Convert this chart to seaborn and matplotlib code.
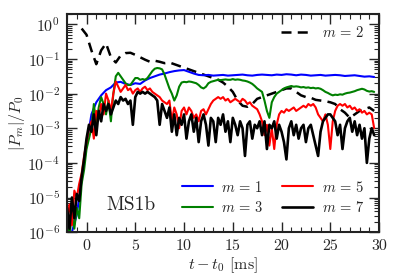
import numpy as np
import pandas as pd
import seaborn as sns
import matplotlib
matplotlib.use("Agg")
import matplotlib.pyplot as plt
from matplotlib.ticker import FixedLocator, FuncFormatter, LogLocator, MultipleLocator, NullFormatter

# time grids [ms]
t_fine = np.linspace(-2.0, 29.5, 127)     # 0.25 ms steps
t_coarse = np.linspace(-2.0, 29.5, 64)    # 0.5 ms steps
t_m2 = np.linspace(-0.5, 29.5, 61)        # 0.5 ms steps

# log10(|P_m|/P_0)
logp_m1 = [-6.2, -6.0, -5.5, -4.5, -3.5, -2.6, -2.25, -2.05, -1.9, -1.82, -1.68, -1.66,
           -1.72, -1.75, -1.7, -1.72, -1.62, -1.55, -1.5, -1.45, -1.42, -1.38, -1.35, -1.33,
           -1.32, -1.37, -1.42, -1.46, -1.47, -1.46, -1.48, -1.47, -1.46, -1.48, -1.47, -1.46,
           -1.45, -1.47, -1.48, -1.46, -1.45, -1.46, -1.47, -1.45, -1.46, -1.44, -1.45, -1.47,
           -1.45, -1.46, -1.48, -1.47, -1.46, -1.48, -1.47, -1.46, -1.47, -1.49, -1.48, -1.47,
           -1.49, -1.51, -1.50, -1.52]

logp_m2 = [-0.12, -0.3, -0.75, -1.15, -0.75, -0.55, -0.95, -1.1, -0.9, -0.83, -0.82, -0.88,
           -0.95, -1.02, -1.08, -1.05, -1.08, -1.12, -1.1, -1.15, -1.2, -1.25, -1.3, -1.35,
           -1.4, -1.45, -1.5, -1.55, -1.6, -1.68, -1.8, -1.95, -2.2, -2.35, -2.38, -2.3,
           -2.15, -2.1, -2.05, -2.0, -1.95, -1.9, -1.85, -1.85, -1.95, -2.05, -2.1, -2.12,
           -2.18, -2.2, -2.22, -2.25, -2.3, -2.45, -2.55, -2.7, -2.6, -2.5, -2.45, -2.4, -2.5]

logp_m3 = [-5.8, -6.1, -5.5, -5.9, -5.3, -5.6, -4.6, -4.2, -3.6, -3.3, -3.0, -2.3,
           -2.9, -2.4, -2.1, -2.3, -2.6, -2.2, -2.8, -2.0, -1.5, -1.4, -1.5, -1.6,
           -1.7, -1.75, -1.75, -1.65, -1.55, -1.55, -1.6, -1.58, -1.6, -1.55, -1.45, -1.35,
           -1.28, -1.26, -1.27, -1.3, -1.45, -1.65, -1.85, -2.0, -2.2, -2.05, -1.8, -1.68,
           -1.66, -1.67, -1.65, -1.66, -1.68, -1.7, -1.75, -1.82, -1.85, -1.8, -1.7, -1.66,
           -1.64, -1.62, -1.6, -1.61, -1.6, -1.59, -1.6, -1.6, -1.58, -1.6, -1.59, -1.6,
           -1.62, -1.63, -1.65, -1.68, -1.72, -1.78, -1.85, -1.9, -1.95, -2.2, -2.5, -2.7,
           -2.25, -2.1, -2.0, -1.95, -1.9, -1.85, -1.82, -1.8, -1.78, -1.8, -1.79, -1.8,
           -1.82, -1.81, -1.83, -1.82, -1.84, -1.83, -1.85, -1.84, -1.86, -1.9, -1.95, -1.98,
           -2.02, -2.05, -2.03, -2.04, -2.02, -2.03, -2.0, -1.98, -1.97, -1.95, -1.93, -1.9,
           -1.88, -1.86, -1.88, -1.92, -1.94, -1.93, -1.95]

logp_m5 = [-5.6, -5.2, -5.8, -4.8, -5.0, -4.6, -4.3, -3.8, -3.4, -3.0, -2.8, -3.3,
           -2.5, -2.7, -2.3, -2.6, -2.0, -2.2, -2.5, -2.0, -1.65, -1.8, -1.95, -1.85,
           -1.75, -1.9, -1.85, -2.0, -1.9, -1.85, -1.95, -1.85, -1.8, -1.9, -1.85, -1.95,
           -2.0, -2.05, -2.1, -2.2, -2.25, -2.3, -2.2, -2.8, -2.4, -2.6, -3.0, -2.5,
           -2.4, -2.6, -2.4, -2.5, -2.7, -2.6, -2.8, -2.5, -2.45, -2.6, -2.45, -2.3,
           -2.2, -2.15, -2.1, -2.15, -2.1, -2.2, -2.15, -2.25, -2.2, -2.15, -2.2, -2.25,
           -2.15, -2.2, -2.3, -2.25, -2.35, -2.4, -2.45, -2.6, -2.8, -3.2, -2.9, -3.5,
           -3.0, -3.6, -2.9, -2.6, -2.5, -2.55, -2.45, -2.5, -2.45, -2.4, -2.5, -2.45,
           -2.4, -2.35, -2.4, -2.3, -2.35, -2.3, -2.4, -2.6, -2.7, -2.8, -2.6, -2.9,
           -3.6, -2.8, -2.5, -2.35, -2.3, -2.35, -2.3, -2.4, -2.35, -2.45, -2.4, -2.5,
           -2.45, -2.55, -2.5, -2.6, -2.55, -2.6, -3.0]

logp_m7 = [-5.3, -5.9, -5.0, -5.6, -4.9, -5.1, -4.4, -3.9, -3.3, -2.9, -3.1, -2.6,
           -3.2, -2.5, -2.8, -2.3, -2.5, -2.3, -2.6, -2.4, -2.2, -2.3, -2.1, -2.2,
           -2.15, -2.3, -2.2, -2.9, -2.1, -1.95, -2.0, -1.95, -2.0, -1.95, -2.0, -2.05,
           -2.1, -2.2, -2.9, -2.3, -2.5, -2.7, -2.4, -3.1, -2.6, -3.2, -2.7, -2.9,
           -2.6, -3.3, -2.8, -2.6, -3.1, -2.7, -3.4, -2.8, -2.6, -2.9, -3.5, -2.7,
           -2.8, -3.4, -2.7, -2.9, -2.6, -3.1, -2.8, -3.4, -2.7, -2.9, -3.2, -2.8,
           -3.0, -3.8, -2.9, -2.8, -3.3, -2.9, -3.0, -2.8, -3.2, -2.8, -3.6, -2.9,
           -3.0, -2.8, -3.3, -2.9, -3.1, -3.4, -3.9, -3.0, -2.8, -3.2, -2.9, -3.3,
           -3.0, -2.9, -3.4, -3.0, -2.9, -3.2, -3.5, -3.8, -3.1, -2.8, -2.7, -2.6,
           -2.6, -2.7, -2.8, -3.2, -2.9, -3.6, -3.0, -2.8, -2.7, -3.1, -2.8, -3.2,
           -2.9, -3.3, -3.0, -4.0, -3.3, -3.0, -3.2]

series = [
    (r"$m\,=\,1$", t_coarse, logp_m1, "#0000ff", 1.5),
    (r"$m\,=\,3$", t_fine, logp_m3, "#008000", 1.5),
    (r"$m\,=\,5$", t_fine, logp_m5, "#ff0000", 1.5),
    (r"$m\,=\,7$", t_fine, logp_m7, "#000000", 1.9),
]

sns.set_style("ticks")
plt.rcParams["font.family"] = "serif"
plt.rcParams["font.serif"] = ["cmr10", "DejaVu Serif"]
plt.rcParams["mathtext.fontset"] = "cm"
plt.rcParams["axes.unicode_minus"] = False
plt.rcParams["axes.formatter.use_mathtext"] = True

fig = plt.figure(figsize=(3.99, 2.79), dpi=100)
ax = fig.add_axes([0.168, 0.168, 0.782, 0.782])

# m=2 dashed
df2 = pd.DataFrame({"t": t_m2, "p": 10 ** np.array(logp_m2)})
sns.lineplot(data=df2, x="t", y="p", ax=ax, color="black", lw=1.8,
             dashes=False, label=r"$m\,=\,2$")
ax.lines[-1].set_dashes((4, 2.5))

for lab, tt, lp, col, lw in series:
    df = pd.DataFrame({"t": tt, "p": 10 ** np.array(lp)})
    sns.lineplot(data=df, x="t", y="p", ax=ax, color=col, lw=lw, label=lab)

ax.set_yscale("log")
ax.set_xlim(-2, 30)
ax.set_ylim(1e-6, 2.0)

ax.xaxis.set_major_locator(MultipleLocator(5))
ax.xaxis.set_minor_locator(MultipleLocator(1))
ax.yaxis.set_major_locator(FixedLocator([10.0 ** k for k in range(-6, 1)]))
ax.yaxis.set_minor_locator(LogLocator(base=10, subs=np.arange(2, 10)))
ax.yaxis.set_minor_formatter(NullFormatter())
ax.yaxis.set_major_formatter(FuncFormatter(lambda v, pos: r"$10^{%d}$" % round(np.log10(v))))
ax.xaxis.set_major_formatter(FuncFormatter(lambda v, pos: "%d" % round(v)))

ax.tick_params(which="both", direction="in", top=True, right=True, labelsize=11.5)
ax.tick_params(which="major", length=7, width=1.0, pad=5)
ax.tick_params(which="minor", length=3.5, width=0.8)
for s in ax.spines.values():
    s.set_linewidth(1.5)
    s.set_color("#222222")

ax.set_xlabel(r"$t - t_0$ [ms]", fontsize=11.5, labelpad=2)
ax.set_ylabel(r"$|P_m|/P_0$", fontsize=11.5, labelpad=0)

ax.text(0.205, 0.125, "MS1b", transform=ax.transAxes, fontsize=14,
        ha="center", va="center")

handles, labels = ax.get_legend_handles_labels()
leg1 = ax.legend(handles[:1], labels[:1], loc="upper right", frameon=False,
                 fontsize=10.5, handlelength=1.8, handletextpad=1.0,
                 bbox_to_anchor=(0.995, 1.01))
ax.add_artist(leg1)
ax.legend(handles[1:], labels[1:], loc="lower right", ncol=2, frameon=False,
          fontsize=10.5, handlelength=2.1, handletextpad=0.6, columnspacing=1.3,
          labelspacing=0.35, bbox_to_anchor=(0.995, 0.02))

fig.savefig("out.png", dpi=100)
